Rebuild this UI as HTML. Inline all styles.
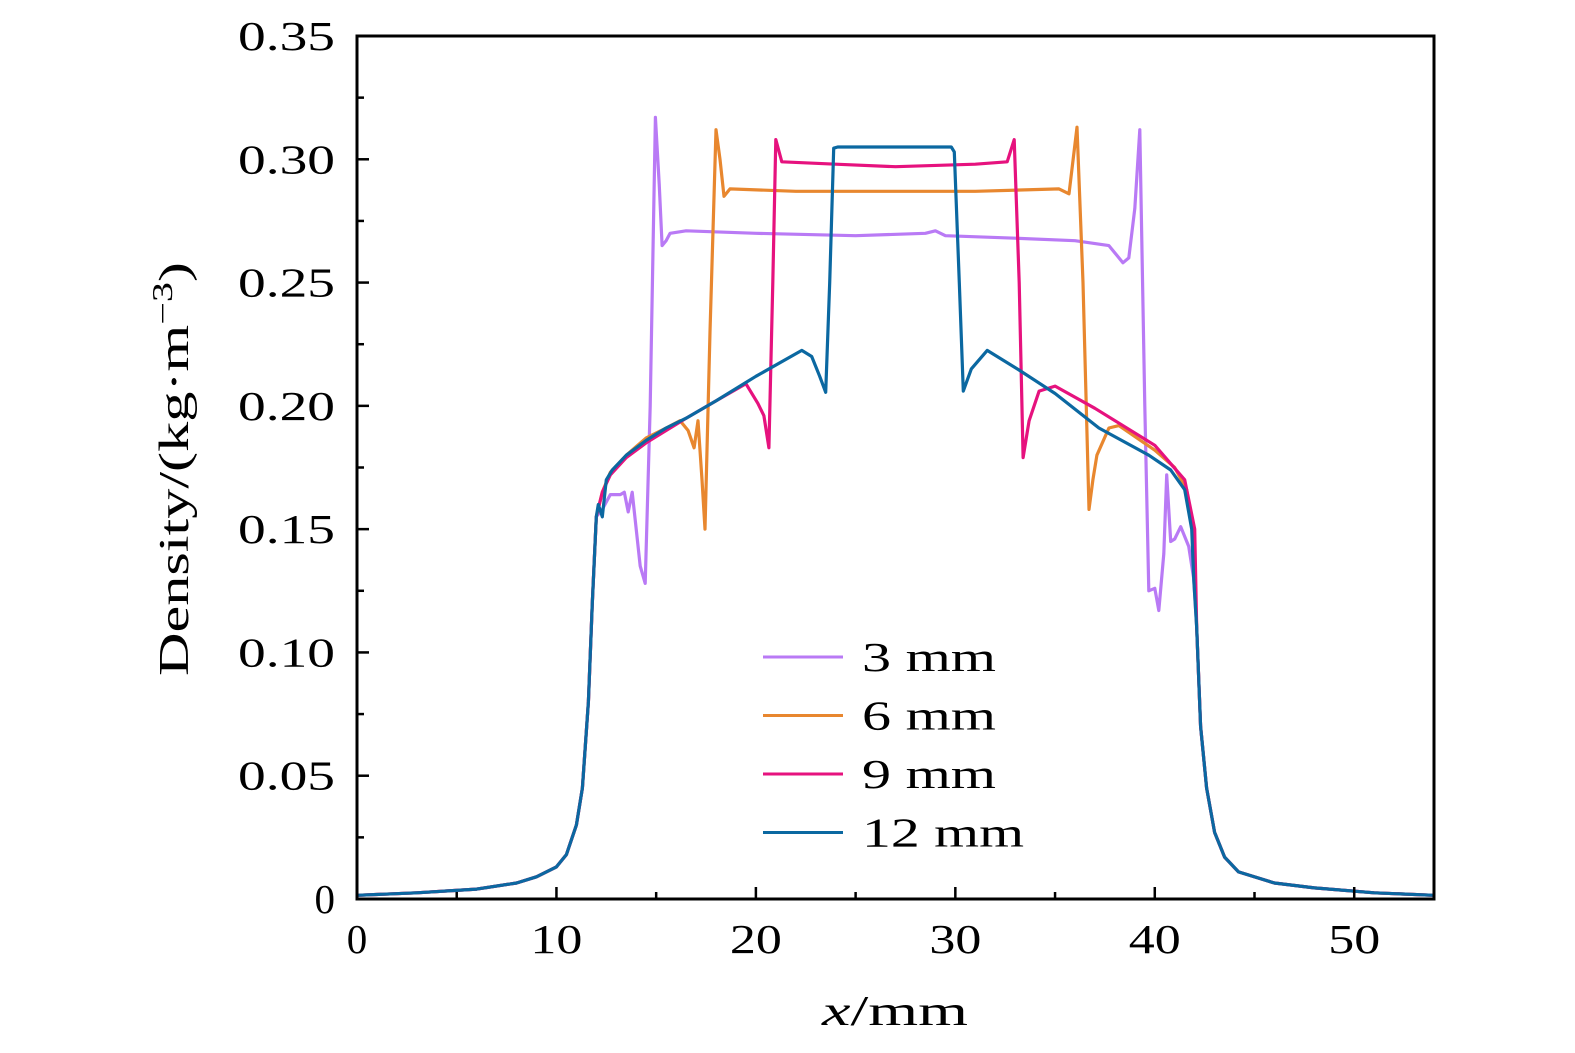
<!DOCTYPE html>
<html><head><meta charset="utf-8"><style>
body{margin:0;background:#fff}
svg{display:block}
text{font-family:"Liberation Serif",serif;fill:#000}
</style></head><body>
<svg id="chart" width="1575" height="1053" viewBox="0 0 1575 1053">
<g id="plot"></g>
<rect x="357" y="36" width="1077" height="863" fill="none" stroke="#000" stroke-width="3"/>
<g id="ticks"></g>
<text x="822" y="1025" font-size="42" textLength="146" lengthAdjust="spacingAndGlyphs"><tspan font-style="italic">x</tspan>/mm</text>
<text transform="translate(188,676) rotate(-90)" font-size="42" textLength="414" lengthAdjust="spacingAndGlyphs">Density/(kg·m<tspan dy="-16" font-size="28">−3</tspan><tspan dy="16">)</tspan></text>
<g id="legend"></g>
</svg>
<script>
const xTicks=[0,10,20,30,40,50];
const yTicks=[0,0.05,0.10,0.15,0.20,0.25,0.30,0.35];
const yTickLabels=["0","0.05","0.10","0.15","0.20","0.25","0.30","0.35"];
const seriesNames=["3 mm","6 mm","9 mm","12 mm"];
const seriesColors=["#b97af5","#e8872f","#e6127e","#0b68a1"];
const leftX=[0,3,6,8,9,10,10.5,11,11.3,11.6,11.8,12];
const leftY=[0.0015,0.0025,0.004,0.0065,0.009,0.013,0.018,0.03,0.045,0.08,0.12,0.155];
const rightX=[42.1,42.3,42.6,43,43.5,44.2,46,48,51,54];
const rightY=[0.11,0.07,0.045,0.027,0.017,0.011,0.0065,0.0045,0.0025,0.0015];
const s3x=[12.3,12.7,13.2,13.4,13.6,13.8,14.0,14.2,14.45,14.7,14.96,15.15,15.3,15.5,15.7,16.5,20,25,28.5,29,29.5,33,36,37.7,38.1,38.4,38.7,39.0,39.25,39.5,39.7,40.0,40.2,40.45,40.6,40.8,41.0,41.3,41.7,41.95];
const s3y=[0.158,0.164,0.164,0.165,0.157,0.165,0.15,0.135,0.128,0.2,0.317,0.29,0.265,0.267,0.270,0.271,0.270,0.269,0.270,0.271,0.269,0.268,0.267,0.265,0.261,0.258,0.26,0.28,0.312,0.2,0.125,0.126,0.117,0.14,0.172,0.145,0.146,0.151,0.143,0.13];
const s6x=[12.3,12.7,13.5,14.5,15.5,16.2,16.6,16.9,17.1,17.3,17.45,17.7,18.0,18.2,18.4,18.7,22,27,31,35.2,35.7,36.1,36.4,36.7,36.9,37.1,37.7,38.2,40,41,41.6,41.9];
const s6y=[0.165,0.173,0.180,0.187,0.191,0.194,0.19,0.183,0.194,0.17,0.15,0.23,0.312,0.3,0.285,0.288,0.287,0.287,0.287,0.288,0.286,0.313,0.25,0.158,0.17,0.18,0.191,0.192,0.182,0.175,0.166,0.15];
const s9x=[12.3,12.7,13.5,14.5,15.5,16.5,18,19.5,20.1,20.4,20.65,20.85,21.0,21.3,24,27,31,32.6,32.95,33.2,33.4,33.7,34.2,35,37,40,41.5,42.0];
const s9y=[0.165,0.172,0.179,0.185,0.19,0.195,0.202,0.209,0.201,0.196,0.183,0.25,0.308,0.299,0.298,0.297,0.298,0.299,0.308,0.25,0.179,0.194,0.206,0.208,0.199,0.184,0.17,0.15];
const s12x=[12.1,12.3,12.5,12.8,13.5,14.5,15.5,16.5,18,20,22.3,22.8,23.2,23.5,23.7,23.9,24.1,29.8,29.95,30.2,30.4,30.8,31.6,33.2,35,37.2,39.7,40.8,41.5,41.85,41.95];
const s12y=[0.16,0.155,0.17,0.174,0.18,0.186,0.191,0.195,0.202,0.212,0.2225,0.22,0.212,0.2055,0.25,0.3045,0.305,0.305,0.303,0.25,0.206,0.215,0.2225,0.2145,0.205,0.191,0.180,0.174,0.166,0.15,0.13];
const allX=[s3x,s6x,s9x,s12x], allY=[s3y,s6y,s9y,s12y];
const X=v=>357+v*(1077/54), Y=v=>899-v*(863/0.35);
const NS="http://www.w3.org/2000/svg";
function mk(tag,attrs,parent){const e=document.createElementNS(NS,tag);for(const k in attrs)e.setAttribute(k,attrs[k]);parent.appendChild(e);return e;}
const plot=document.getElementById('plot'),ticks=document.getElementById('ticks'),legend=document.getElementById('legend');
const legendLens=[134,134,134,162];
for(let i=0;i<4;i++){
  const xs=leftX.concat(allX[i],rightX), ys=leftY.concat(allY[i],rightY);
  const pts=xs.map((x,j)=>X(x).toFixed(1)+","+Y(ys[j]).toFixed(1)).join(" ");
  const pl=mk('polyline',{points:pts,fill:'none',stroke:seriesColors[i],'stroke-width':3.2,'stroke-linejoin':'round'},plot);
  
  
  const ly=657+i*58.5;
  const ll=mk('line',{x1:763,x2:843,y1:ly,y2:ly,stroke:seriesColors[i],'stroke-width':3},legend);
  
  
  const lt=mk('text',{x:862,y:ly+14,'font-size':41,textLength:legendLens[i],lengthAdjust:'spacingAndGlyphs'},legend);
  lt.textContent=seriesNames[i].replace(' ','\u00a0');
  
  
}
for(let v=0;v<=54;v+=5){
  const major=v%10===0;
  const t=mk('line',{x1:X(v),x2:X(v),y1:899,y2:899-(major?12:7),stroke:'#000','stroke-width':2.5},ticks);
  
  
}
xTicks.forEach(v=>{
  const s=String(v);
  const attrs={x:X(v),y:953,'font-size':41,'text-anchor':'middle'};
  if(s.length>1){attrs.x=X(v)-26;attrs['text-anchor']='start';attrs.textLength=52;attrs.lengthAdjust='spacingAndGlyphs';}
  const t=mk('text',attrs,ticks);t.textContent=s;
  
  });
for(let k=0;k<=14;k++){
  const v=k*0.025,major=k%2===0;
  const t=mk('line',{x1:357,x2:357+(major?12:7),y1:Y(v),y2:Y(v),stroke:'#000','stroke-width':2.5},ticks);
  
  
}
yTicks.forEach((v,i)=>{
  const s=yTickLabels[i];
  const attrs={x:335,y:Y(v)+14,'font-size':41,'text-anchor':'end'};
  if(s.length>1){attrs.x=238;attrs['text-anchor']='start';attrs.textLength=97;attrs.lengthAdjust='spacingAndGlyphs';}
  const t=mk('text',attrs,ticks);t.textContent=s;
  
  });
</script>
</body></html>
